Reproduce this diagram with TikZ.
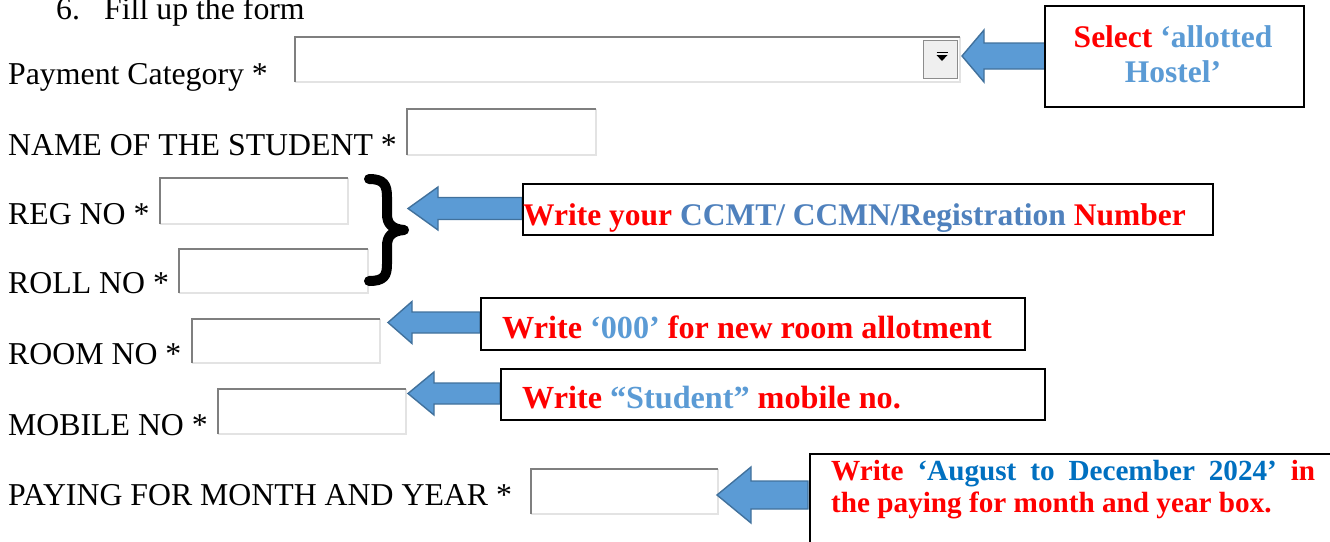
\documentclass[tikz,border=0pt]{standalone}
\usepackage{fontspec}
\setmainfont{Liberation Serif}
\usetikzlibrary{calc}
\definecolor{cred}{HTML}{FF0000}
\definecolor{lblue}{HTML}{5B9BD5}
\definecolor{mblue}{HTML}{4F81BD}
\definecolor{dblue}{HTML}{0070C0}
\definecolor{arrfill}{HTML}{5B9BD5}
\definecolor{arredge}{HTML}{41719C}
\definecolor{edgedark}{HTML}{7F7F7F}
\definecolor{edgelight}{HTML}{E3E3E3}
\definecolor{btnfill}{HTML}{EFEFEF}
\definecolor{btnedge}{HTML}{8C8C8C}
\tikzset{
  lbl/.style={anchor=base west, inner sep=0pt, font=\fontsize{31.8}{35}\selectfont},
  note/.style={inner sep=0pt, font=\fontsize{31.5}{35}\selectfont\bfseries},
  bignote/.style={anchor=base west, inner sep=0pt, font=\fontsize{32.2}{35}\selectfont\bfseries},
  smallnote/.style={anchor=base west, inner sep=0pt, font=\fontsize{29.2}{32}\selectfont\bfseries},
  field/.style={anchor=north west, fill=white, inner sep=0pt, outer sep=0pt},
  callout/.style={anchor=north west, draw=black, line width=1.6pt, fill=white, inner sep=0pt},
  blk/.style={fill=arrfill, draw=arredge, line width=1.4pt, line join=miter},
}
\newcommand{\inputfield}[5]{%
  \node[field, minimum width=#4pt, minimum height=#5pt] (#1) at (#2,#3) {};
  \draw[edgelight, line width=2pt] (#1.north east) -- (#1.south east) -- (#1.south west);
  \draw[edgedark, line width=2.5pt] (#1.south west) -- (#1.north west) -- (#1.north east);
}
\newcommand{\blockarrow}[5]{%
  \draw[blk] (#1) -- ++(#2,-#3) -- ++(0,#3-#4) -- ++(#5,0) -- ++(0,2*#4) -- ++(-#5,0) -- ++(0,#3-#4) -- cycle;
}
\begin{document}
\begin{tikzpicture}[x=1pt,y=-1pt]
\useasboundingbox (0,0) rectangle (1330,541);
\clip (0,0) rectangle (1330,541);

% title
\node[lbl] (num) at (56,19) {6.};
\node[lbl] (title) at (104,19) {Fill up the form};

% labels
\node[lbl] (lpay) at (8,84) {Payment Category *};
\node[lbl] (lname) at (8,155) {NAME OF THE STUDENT *};
\node[lbl] (lreg) at (8,224) {REG NO *};
\node[lbl] (lroll) at (8,293) {ROLL NO *};
\node[lbl] (lroom) at (8,364) {ROOM NO *};
\node[lbl] (lmob) at (8,435) {MOBILE NO *};
\node[lbl] (lmonth) at (8,505) {PAYING FOR MONTH AND YEAR *};

% input fields
\inputfield{dd}{295}{37}{665}{45}
\node[anchor=north east, fill=btnfill, draw=btnedge, line width=1.2pt, minimum width=34pt, minimum height=38pt, inner sep=0pt] (btn) at (958,40) {};
\fill (936.5,55) -- (947.5,55) -- (942,61) -- cycle;
\draw[line width=1.4pt] (936.5,52.5) -- (947.5,52.5);
\inputfield{fname}{407}{109}{189}{46}
\inputfield{freg}{160}{178}{188}{46}
\inputfield{froll}{179}{249}{189}{44}
\inputfield{froom}{192}{319}{188}{44}
\inputfield{fmob}{218}{389}{188}{45}
\inputfield{fpay}{531}{469}{187}{45}

% brace
\draw[line width=10pt, line cap=round, line join=round]
  (369,179) .. controls (384,179) and (387,185) .. (387,197) -- (387,214)
  .. controls (387,224) and (392,229) .. (404,230)
  .. controls (392,231) and (387,236) .. (387,246) -- (387,264)
  .. controls (387,276) and (384,281) .. (369,281);

% arrow tips
\coordinate (t1) at (962,56);
\coordinate (t2) at (408,208.5);
\coordinate (t3) at (388,322.5);
\coordinate (t4) at (408,393.5);
\coordinate (t5) at (717,495);
\blockarrow{t1}{22}{26}{13}{62}
\blockarrow{t2}{30}{21.5}{11}{84}
\blockarrow{t3}{24}{21}{10.5}{68}
\blockarrow{t4}{26}{21.5}{10.5}{66}
\blockarrow{t5}{34}{28}{14}{57}

% callout boxes
\node[callout, minimum width=259pt, minimum height=101pt] (c1) at (1044,5) {};
\node[callout, minimum width=690pt, minimum height=51pt] (c2) at (522,183) {};
\node[callout, minimum width=544pt, minimum height=52pt] (c3) at (480,297) {};
\node[callout, minimum width=544pt, minimum height=51pt] (c4) at (500,368) {};
\node[callout, line width=2pt, minimum width=600pt, minimum height=150pt] (c5) at (809,453) {};

% callout texts
\node[note, anchor=base] (c1a) at (1173,47) {\color{cred}Select \color{lblue}‘allotted};
\node[note, anchor=base] (c1b) at (1173,82) {\color{lblue}Hostel’};
\node[note, anchor=base west] (c2t) at (523,225) {\color{cred}Write your \color{mblue}CCMT/ CCMN/Registration \color{cred}Number};
\node[bignote] (c3t) at (502,338) {\color{cred}Write \color{lblue}‘000’ \color{cred}for new room allotment};
\node[bignote] (c4t) at (522,408) {\color{cred}Write \color{lblue}“Student” \color{cred}mobile no.};
\node[smallnote] (c5a) at (831,480) {\makebox[484pt][s]{\color{cred}Write \color{dblue}‘August to December 2024’ \color{cred}in}};
\node[smallnote] (c5b) at (831,512) {\color{cred}the paying for month and year box.};
\end{tikzpicture}
\end{document}
